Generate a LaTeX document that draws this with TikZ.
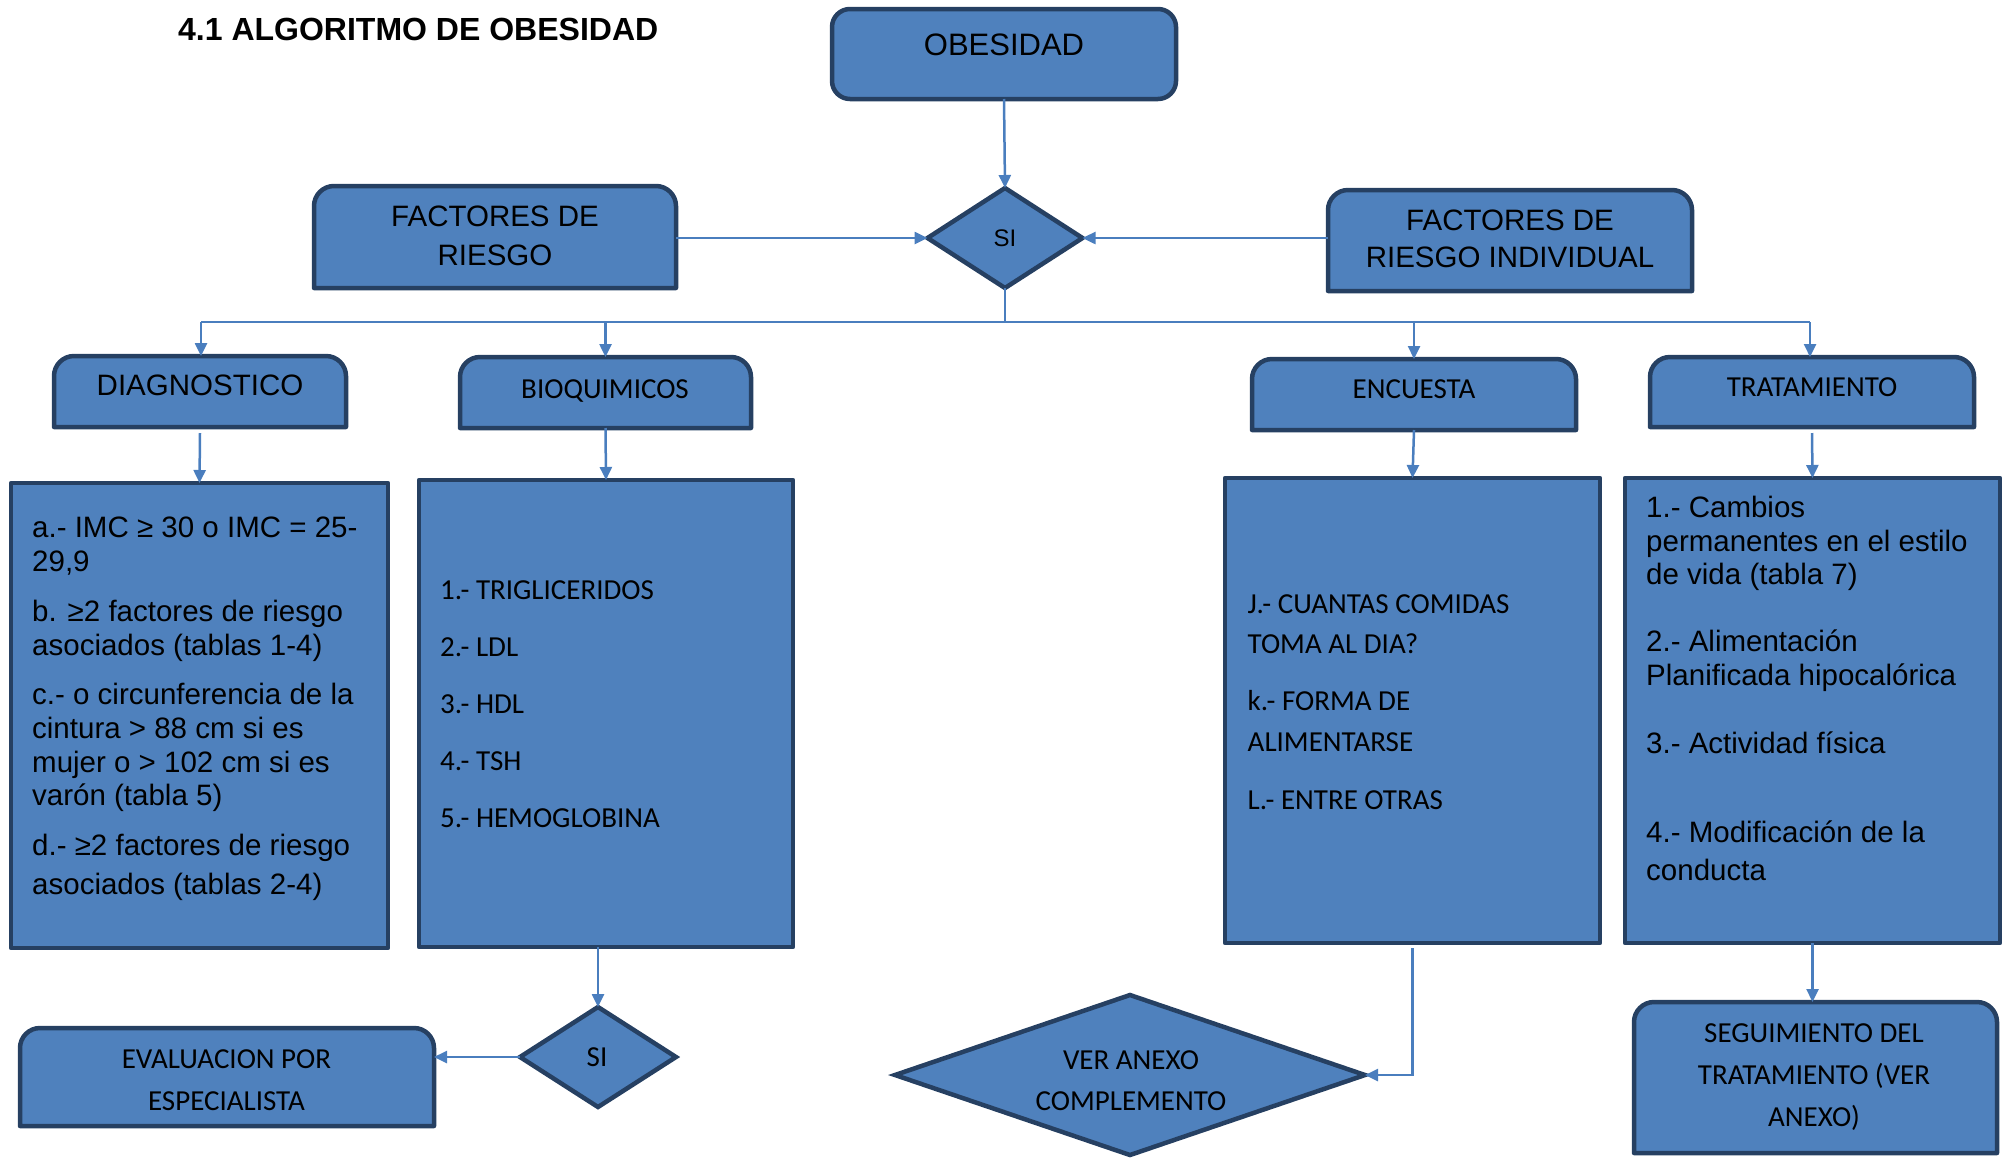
\documentclass[tikz,border=0pt]{standalone}
\usepackage{fontspec}
\setmainfont{Liberation Sans}
\newfontfamily\calibri{Carlito}
\usetikzlibrary{arrows.meta,shapes.geometric,calc}
\definecolor{fillblue}{RGB}{79,129,189}
\definecolor{edgeblue}{RGB}{38,64,98}
\definecolor{linkblue}{RGB}{74,126,190}
\newcommand\fA{\fontsize{29.5}{33}\selectfont}
\newcommand\fC{\calibri\fontsize{29}{33}\selectfont}
\newcommand\fT{\bfseries\fontsize{32}{36}\selectfont}
\newcommand\boxat[5]{\node[boxnode, minimum width={#4-#2}, minimum height={#5-#3}, anchor=north west] (#1) at (#2,#3) {};}
\newcommand\toprounded[1]{\filldraw[shapeline] (#1.south west) -- ($(#1.north west)+(0,20)$) .. controls ($(#1.north west)+(0,9)$) and ($(#1.north west)+(9,0)$) .. ($(#1.north west)+(20,0)$) -- ($(#1.north east)+(-20,0)$) .. controls ($(#1.north east)+(-9,0)$) and ($(#1.north east)+(0,9)$) .. ($(#1.north east)+(0,20)$) -- (#1.south east) -- cycle;}
\newcommand\squarebox[1]{\filldraw[shapeline] (#1.north west) rectangle (#1.south east);}
\tikzset{
 boxnode/.style={rectangle, inner sep=0pt, outer sep=0pt},
 shapeline/.style={draw=edgeblue, fill=fillblue, line width=4.5pt, line join=round},
 decide/.style={diamond, inner sep=0pt, outer sep=0pt, draw=edgeblue, fill=fillblue, line width=4.5pt},
 link/.style={draw=linkblue, line width=2.5pt},
 arrowlink/.style={link, -{Triangle[length=13pt,width=12pt]}},
 ta/.style={inner sep=0pt, anchor=base, font=\fA},
 tal/.style={inner sep=0pt, anchor=base west, font=\fA},
 tc/.style={inner sep=0pt, anchor=base, font=\fC},
 tcl/.style={inner sep=0pt, anchor=base west, font=\fC},
}
\begin{document}
\begin{tikzpicture}[x=1pt,y=-1pt]
\useasboundingbox (0,0) rectangle (2009,1157);
% geometry nodes
\boxat{obes}{832}{9}{1176}{99}
\boxat{fr}{314}{186}{676}{288}
\boxat{fri}{1328}{190}{1692}{291}
\boxat{diag}{54}{356}{346}{427}
\boxat{bioq}{460}{357}{751}{428}
\boxat{enc}{1252}{359}{1576}{430}
\boxat{trat}{1650}{357}{1974}{427}
\boxat{diagD}{11}{483}{388}{948}
\boxat{bioqD}{419}{480}{793}{947}
\boxat{encD}{1225}{478}{1600}{943}
\boxat{tratD}{1625}{478}{2000}{943}
\boxat{eval}{20}{1028}{434}{1126}
\boxat{seg}{1634}{1002}{1997}{1153}
% shapes
\filldraw[shapeline, rounded corners=18pt] (obes.south west) rectangle (obes.north east);
\toprounded{fr}
\toprounded{fri}
\toprounded{diag}
\toprounded{bioq}
\toprounded{enc}
\toprounded{trat}
\toprounded{eval}
\toprounded{seg}
\squarebox{diagD}
\squarebox{bioqD}
\squarebox{encD}
\squarebox{tratD}
\node[decide, minimum width=155pt, minimum height=100pt] (si1) at (1005,238) {};
\node[decide, minimum width=156pt, minimum height=100pt] (si2) at (598,1057) {};
\node[decide, minimum width=470pt, minimum height=160pt] (anexo) at (1130,1075) {};
% title
\node[inner sep=0pt, anchor=base west, font=\fT] (title) at (178,40) {4.1 ALGORITMO DE OBESIDAD};
% header texts
\node[inner sep=0pt, anchor=base, font=\fontsize{31}{36}\selectfont] (tobes) at (1004,55) {OBESIDAD};
\node[inner sep=0pt, anchor=base, font=\fontsize{24}{28}\selectfont] (tsi1) at (1005,246.5) {SI};
\node[ta] (tfr1) at (495,226.5) {FACTORES DE};
\node[ta] (tfr2) at (495,265) {RIESGO};
\node[ta] (tfri1) at (1510,230) {FACTORES DE};
\node[ta] (tfri2) at (1510,267.5) {RIESGO INDIVIDUAL};
\node[ta] (tdiag) at (200,395) {DIAGNOSTICO};
\node[tc] (tbioq) at (605,398) {BIOQUIMICOS};
\node[tc] (tenc) at (1414,398.5) {ENCUESTA};
\node[tc] (ttrat) at (1812,396.5) {TRATAMIENTO};
\node[tc] (tsi2) at (597,1066) {SI};
\node[tc] (teval1) at (226.5,1068) {EVALUACION POR};
\node[tc] (teval2) at (226.5,1110) {ESPECIALISTA};
\node[tc] (tanx1) at (1131,1069) {VER ANEXO};
\node[tc] (tanx2) at (1131,1110) {COMPLEMENTO};
\node[tc] (tseg1) at (1814,1042.5) {SEGUIMIENTO DEL};
\node[tc] (tseg2) at (1814,1084) {TRATAMIENTO (VER};
\node[tc] (tseg3) at (1814,1126) {ANEXO)};
% detail texts
\foreach \yy/\lbltext [count=\i] in {537.5/{a.- IMC ≥ 30 o IMC = 25-}, 571/{29,9}, 621.5/{b. ≥2 factores de riesgo}, 655/{asociados (tablas 1-4)}, 704.5/{c.- o circunferencia de la}, 738/{cintura > 88 cm si es}, 772/{mujer o > 102 cm si es}, 805/{varón (tabla 5)}, 855/{d.- ≥2 factores de riesgo}, 894/{asociados (tablas 2-4)}}
  \node[tal] (dg\i) at (32,\yy) {\lbltext};
\foreach \yy/\lbltext [count=\i] in {599/{1.- TRIGLICERIDOS}, 656/{2.- LDL}, 713.5/{3.- HDL}, 770.5/{4.- TSH}, 827.5/{5.- HEMOGLOBINA}}
  \node[tcl] (bq\i) at (440,\yy) {\lbltext};
\foreach \yy/\lbltext [count=\i] in {613/{J.- CUANTAS COMIDAS}, 653.5/{TOMA AL DIA?}, 710.5/{k.- FORMA DE}, 751/{ALIMENTARSE}, 809/{L.- ENTRE OTRAS}}
  \node[tcl] (ec\i) at (1247.5,\yy) {\lbltext};
\foreach \yy/\lbltext [count=\i] in {517/{1.- Cambios}, 551/{permanentes en el estilo}, 584/{de vida (tabla 7)}, 651.5/{2.- Alimentación}, 685/{Planificada hipocalórica}, 753/{3.- Actividad física}, 842/{4.- Modificación de la}, 880/{conducta}}
  \node[tal] (tr\i) at (1646,\yy) {\lbltext};
% connectors
\coordinate (busL) at (201,322);
\coordinate (busR) at (1810,322);
\draw[arrowlink] (obes.south) -- (si1.north);
\draw[arrowlink] (fr.east |- si1.west) -- (si1.west);
\draw[arrowlink] (fri.west |- si1.east) -- (si1.east);
\draw[link] (si1.south) -- (si1.south |- busL);
\draw[link] (busL) -- (busR);
\draw[arrowlink] (busL) -- (busL |- diag.north);
\draw[arrowlink] (bioq.north |- busL) -- (bioq.north);
\draw[arrowlink] (enc.north |- busL) -- (enc.north);
\draw[arrowlink] (busR) -- (busR |- trat.north);
\draw[arrowlink] ($(diag.south)+(0,6)$) -- (diagD.north);
\draw[arrowlink] (bioq.south) -- (bioqD.north);
\draw[arrowlink] (enc.south) -- (encD.north);
\draw[arrowlink] ($(trat.south)+(0,6)$) -- (tratD.north);
\draw[arrowlink] (si2.north |- bioqD.south) -- (si2.north);
\draw[arrowlink] (si2.west) -- (si2.west -| eval.east);
\draw[arrowlink] ($(encD.south)+(0,5)$) |- (anexo.east);
\draw[arrowlink] (tratD.south) -- (tratD.south |- seg.north);
\end{tikzpicture}
\end{document}
